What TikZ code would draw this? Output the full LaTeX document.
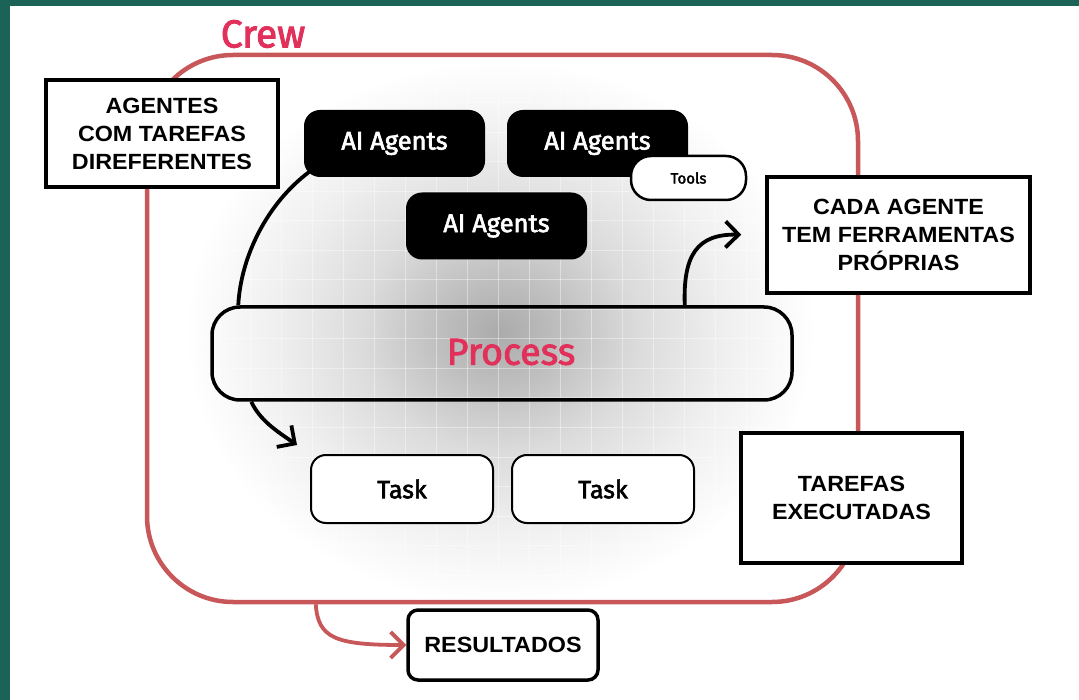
\documentclass[tikz,border=0pt]{standalone}
\usepackage{fontspec}
\usepackage{tikz}
\usepackage{xcolor}
\usetikzlibrary{arrows.meta,calc}
\newfontfamily\uimed{Fira Sans}[FakeBold=2.4]
\newfontfamily\notefont{Liberation Sans}[FakeStretch=1.06]
\definecolor{framegreen}{HTML}{1B6357}
\definecolor{crewred}{HTML}{C8575A}
\definecolor{titlered}{HTML}{E1315A}
\pgfdeclareradialshading{blob}{\pgfpoint{0bp}{0bp}}{color(0bp)=(black!33); color(5bp)=(black!25); color(11bp)=(black!14); color(18bp)=(black!6); color(25bp)=(white); color(50bp)=(white)}

\begin{document}
\begin{tikzpicture}[x=1pt, y=-1pt,
    note/.style={draw, line width=3.5pt, fill=white, inner sep=0pt, align=center,
                 font=\notefont\bfseries\fontsize{22}{28}\selectfont},
    agent/.style={fill=black, rounded corners=16pt, minimum width=181pt, minimum height=67pt,
                  text=white, font=\uimed\fontsize{25.5}{28}\selectfont},
    task/.style={draw, line width=2pt, fill=white, rounded corners=15pt, minimum width=182pt,
                 minimum height=68pt, font=\uimed\fontsize{25}{28}\selectfont},
    wire/.style={line width=3.8pt, -{Straight Barb[length=13pt,width=26pt]}}]
        % Frame and shaded backdrop
        \fill[framegreen] (0,0) rectangle (1079,700);
        \fill[white] (10,6) rectangle (1079,700);
        \useasboundingbox (0,0) rectangle (1079,700);
        \shade[shading=blob] (500,332) ellipse (315 and 272);
        \begin{scope}
            \clip (500,332) ellipse (315 and 272);
            \foreach \gx in {219,250,...,808} \draw[white, opacity=0.4, line width=1pt] (\gx,50) -- (\gx,610);
            \foreach \gy in {73.5,103,...,605} \draw[white, opacity=0.4, line width=1pt] (180,\gy) -- (820,\gy);
        \end{scope}
        % Nodes
        \node[draw=crewred, line width=4.5pt, rounded corners=86pt, minimum width=711pt, minimum height=547pt] (C) at (502.5,328.5) {};
        \node[text=titlered, font=\uimed\fontsize{39}{42}\selectfont] (CT) at (263,34) {Crew};
        \node[agent] (A1) at (394.5,143.5) {AI Agents};
        \node[agent] (A2) at (597.5,143.5) {AI Agents};
        \node[agent] (A3) at (496.5,226) {AI Agents};
        \node[draw, line width=2.5pt, fill=white, rounded corners=20pt, minimum width=115pt, minimum height=44pt,
              font=\uimed\fontsize{15}{18}\selectfont] (TL) at (688.5,178) {Tools};
        \node[draw, line width=3.5pt, rounded corners=28pt, minimum width=580pt, minimum height=93pt] (P) at (502,353.5) {};
        \node[text=titlered, font=\uimed\fontsize{37.5}{40}\selectfont] (PT) at (511,352) {Process};
        \node[task] (K1) at (402,489) {Task};
        \node[task] (K2) at (603,489) {Task};
        \node[note, minimum width=232pt, minimum height=107pt] (N1) at (162,133.5) {AGENTES\\COM TAREFAS\\DIREFERENTES};
        \node[note, minimum width=263pt, minimum height=116pt] (N2) at (898.5,235) {CADA AGENTE\\TEM FERRAMENTAS\\PRÓPRIAS};
        \node[note, minimum width=221pt, minimum height=130pt] (N3) at (851.5,498) {TAREFAS\\EXECUTADAS};
        \node[note, rounded corners=10pt, minimum width=190pt, minimum height=70pt] (R) at (503,645) {RESULTADOS};
        % Connectors
        \coordinate (ktip) at ($(K1.north west)+(-13,-9)$);
        \draw[line width=3.8pt] ($(A1.south west)+(5,-5)$) .. controls (268,203) and (241,255) .. ($(P.north west)+(28,0)$);
        \draw[wire] ($(P.south west)+(41,0)$) .. controls (260,420) and (275,430) .. (ktip);
        \draw[wire, shorten >=24pt] ($(P.north east)+(-109,0)$) .. controls (683,255) and (697,234) .. (N2.west);
        \draw[wire, crewred] ($(C.south west)+(171,0)$) .. controls (318,638) and (335,645) .. (R.west);
\end{tikzpicture}
\end{document}
